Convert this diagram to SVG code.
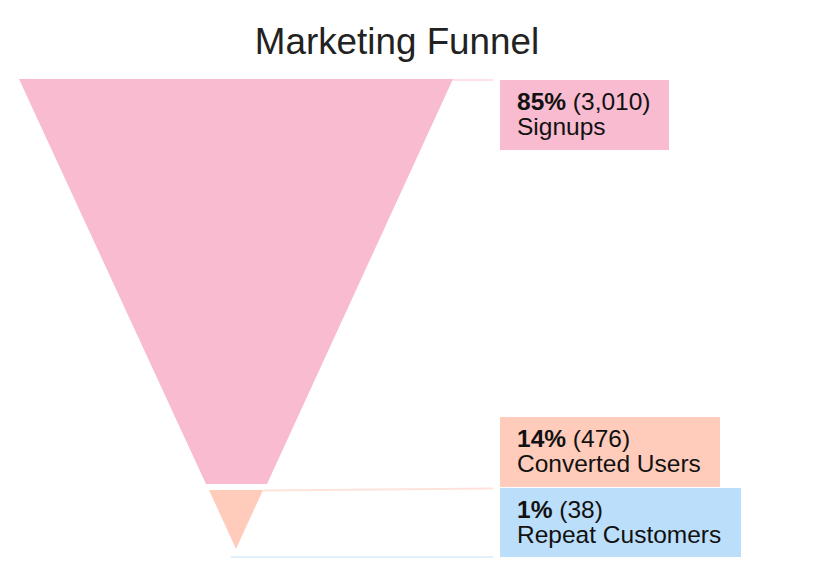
<svg xmlns="http://www.w3.org/2000/svg" width="814" height="588" viewBox="0 0 814 588">
<style>
text{font-family:"Liberation Sans",Arial,sans-serif;fill:#111}
.title{font-size:36.8px;fill:#222}
.lbl{font-size:24.5px}
.b{font-weight:bold}
.conn{stroke-width:2;fill:none}
</style>
<rect width="814" height="588" fill="#ffffff"/>
<text class="title" x="397" y="54" text-anchor="middle">Marketing Funnel</text>
<g id="connectors">
<line class="conn" x1="453" y1="80" x2="493" y2="80" stroke="#fde0e9"/>
<line class="conn" x1="263" y1="490.5" x2="493" y2="488.5" stroke="#ffe3da"/>
<line class="conn" x1="231" y1="557" x2="493" y2="557" stroke="#e2f0fc"/>
</g>
<g id="signups">
<polygon points="19,79 453,79 267,484 206,484" fill="#f8bbd0"/>
<rect x="500" y="80" width="169" height="70" fill="#f8bbd0"/>
<text class="lbl" x="517" y="110"><tspan class="b">85%</tspan> (3,010)</text>
<text class="lbl" x="517" y="135">Signups</text>
</g>
<g id="converted">
<polygon points="209,490 263,490 236,549" fill="#ffccbc"/>
<rect x="500" y="417" width="220" height="70" fill="#ffccbc"/>
<text class="lbl" x="517" y="447"><tspan class="b">14%</tspan> (476)</text>
<text class="lbl" x="517" y="472">Converted Users</text>
</g>
<g id="repeat">
<rect x="500" y="488" width="241" height="69" fill="#bbdefb"/>
<text class="lbl" x="517" y="518"><tspan class="b">1%</tspan> (38)</text>
<text class="lbl" x="517" y="543">Repeat Customers</text>
</g>
</svg>
